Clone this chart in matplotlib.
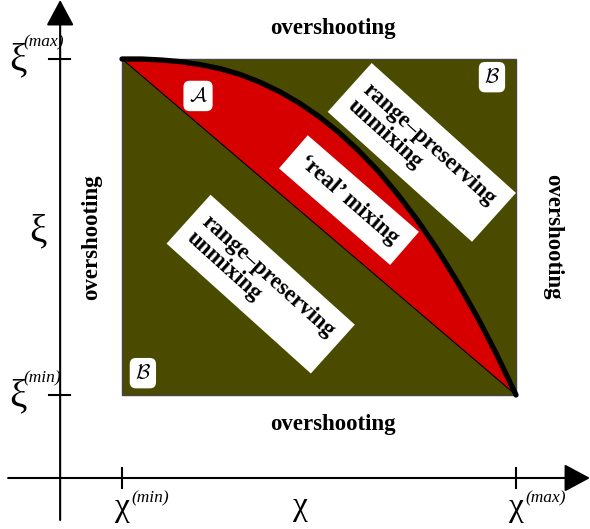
import numpy as np
import matplotlib.pyplot as plt
from matplotlib.patches import Rectangle

# boundary of the admissible region (box normalised to [0,1])
curve_x = [0.0, 0.05, 0.1, 0.15, 0.2, 0.25, 0.3, 0.35, 0.4, 0.45, 0.5, 0.55,
           0.6, 0.65, 0.7, 0.75, 0.8, 0.85, 0.9, 0.925, 0.95, 0.975, 1.0]
curve_y = [1.0, 1.0, 0.997, 0.992, 0.983, 0.971, 0.954, 0.931, 0.903, 0.869, 0.829, 0.782,
           0.728, 0.667, 0.597, 0.520, 0.434, 0.339, 0.236, 0.180, 0.123, 0.062, 0.0]
diag_x = [0.0, 1.0]
diag_y = [1.0, 0.0]

x_ticks = [0.0, 1.0]
x_tick_labels = ['(min)', '(max)']
y_ticks = [0.0, 1.0]
y_tick_labels = ['(min)', '(max)']

OLIVE = '#4b4b00'
RED = '#d70000'
serif = 'Liberation Serif'

fig = plt.figure(figsize=(5.9, 5.29), dpi=100)
ax = fig.add_axes([0, 0, 1, 1])
ax.set_xlim(-122 / 394, 468 / 394)
ax.set_ylim(-134 / 336, 395 / 336)
ax.axis('off')

# background box and the mixing region
ax.add_patch(Rectangle((0, 0), 1, 1, facecolor=OLIVE, edgecolor='#444444', lw=1, zorder=1))
ax.fill_between(curve_x, np.interp(curve_x, diag_x, diag_y), curve_y,
                color=RED, lw=0, zorder=2)
ax.plot(diag_x, diag_y, color='k', lw=0.8, zorder=3)
ax.plot(curve_x, curve_y, color='k', lw=3.8, solid_capstyle='round',
        solid_joinstyle='round', zorder=4)

# coordinate axes with arrow heads
arr = dict(arrowstyle='-|>,head_length=1.6,head_width=0.86', mutation_scale=10,
           lw=1.5, color='k', shrinkA=0, shrinkB=0)
ax.annotate('', xy=(468 / 394, -0.247), xytext=(-0.289, -0.247), arrowprops=arr)
ax.annotate('', xy=(-0.157, 395 / 336), xytext=(-0.157, -0.372), arrowprops=arr)
for t in x_ticks:
    ax.plot([t, t], [-0.217, -0.277], color='k', lw=1.5)
for t in y_ticks:
    ax.plot([-0.185, -0.132], [t, t], color='k', lw=1.5)

# tick labels
for t, lab in zip(x_ticks, x_tick_labels):
    ax.text(t, -0.336, 'χ', family=serif, fontsize=24, ha='center', va='center')
    ax.text(t + 0.025, -0.307, lab, family=serif, style='italic', fontsize=12.5,
            ha='left', va='center')
for t, lab in zip(y_ticks, y_tick_labels):
    ax.text(-0.265, t - 0.005, 'ξ', family=serif, fontsize=28, ha='center', va='center')
    ax.text(-0.25, t + 0.05, lab, family=serif, style='italic', fontsize=12.5,
            ha='left', va='center')
ax.text(0.452, -0.333, 'χ', family=serif, fontsize=24, ha='center', va='center')
ax.text(-0.213, 0.485, 'ξ', family=serif, fontsize=28, ha='center', va='center')

# overshooting labels
bold = dict(family=serif, fontweight='bold', fontsize=16.5, ha='center', va='center')
ax.text(0.536, 1.092, 'overshooting', **bold)
ax.text(0.536, -0.089, 'overshooting', **bold)
ax.text(-0.076, 0.47, 'overshooting', rotation=90, **bold)
ax.text(1.094, 0.47, 'overshooting', rotation=-90, **bold)

# boxed region labels
wbox = dict(boxstyle='square,pad=0.5', facecolor='white', edgecolor='none')
ax.text(0.761, 0.722, 'range–preserving\nunmixing', rotation=-42, multialignment='left',
        bbox=wbox, linespacing=1.05, rotation_mode='anchor', zorder=5, **bold)
ax.text(0.352, 0.330, 'range–preserving\nunmixing', rotation=-42, multialignment='left',
        bbox=wbox, linespacing=1.05, rotation_mode='anchor', zorder=5, **bold)
ax.text(0.576, 0.58, '‘real’ mixing', rotation=-41, bbox=wbox,
        rotation_mode='anchor', zorder=5, **bold)

rbox = dict(boxstyle='round,pad=0.25,rounding_size=0.3', facecolor='white', edgecolor='none')
ax.text(0.193, 0.89, r'$\mathcal{A}$', math_fontfamily='cm', fontsize=15,
        ha='center', va='center', bbox=rbox, zorder=5)
ax.text(0.939, 0.946, r'$\mathcal{B}$', math_fontfamily='cm', fontsize=15,
        ha='center', va='center', bbox=rbox, zorder=5)
ax.text(0.053, 0.065, r'$\mathcal{B}$', math_fontfamily='cm', fontsize=15,
        ha='center', va='center', bbox=rbox, zorder=5)

fig.savefig('out.png', dpi=100)
